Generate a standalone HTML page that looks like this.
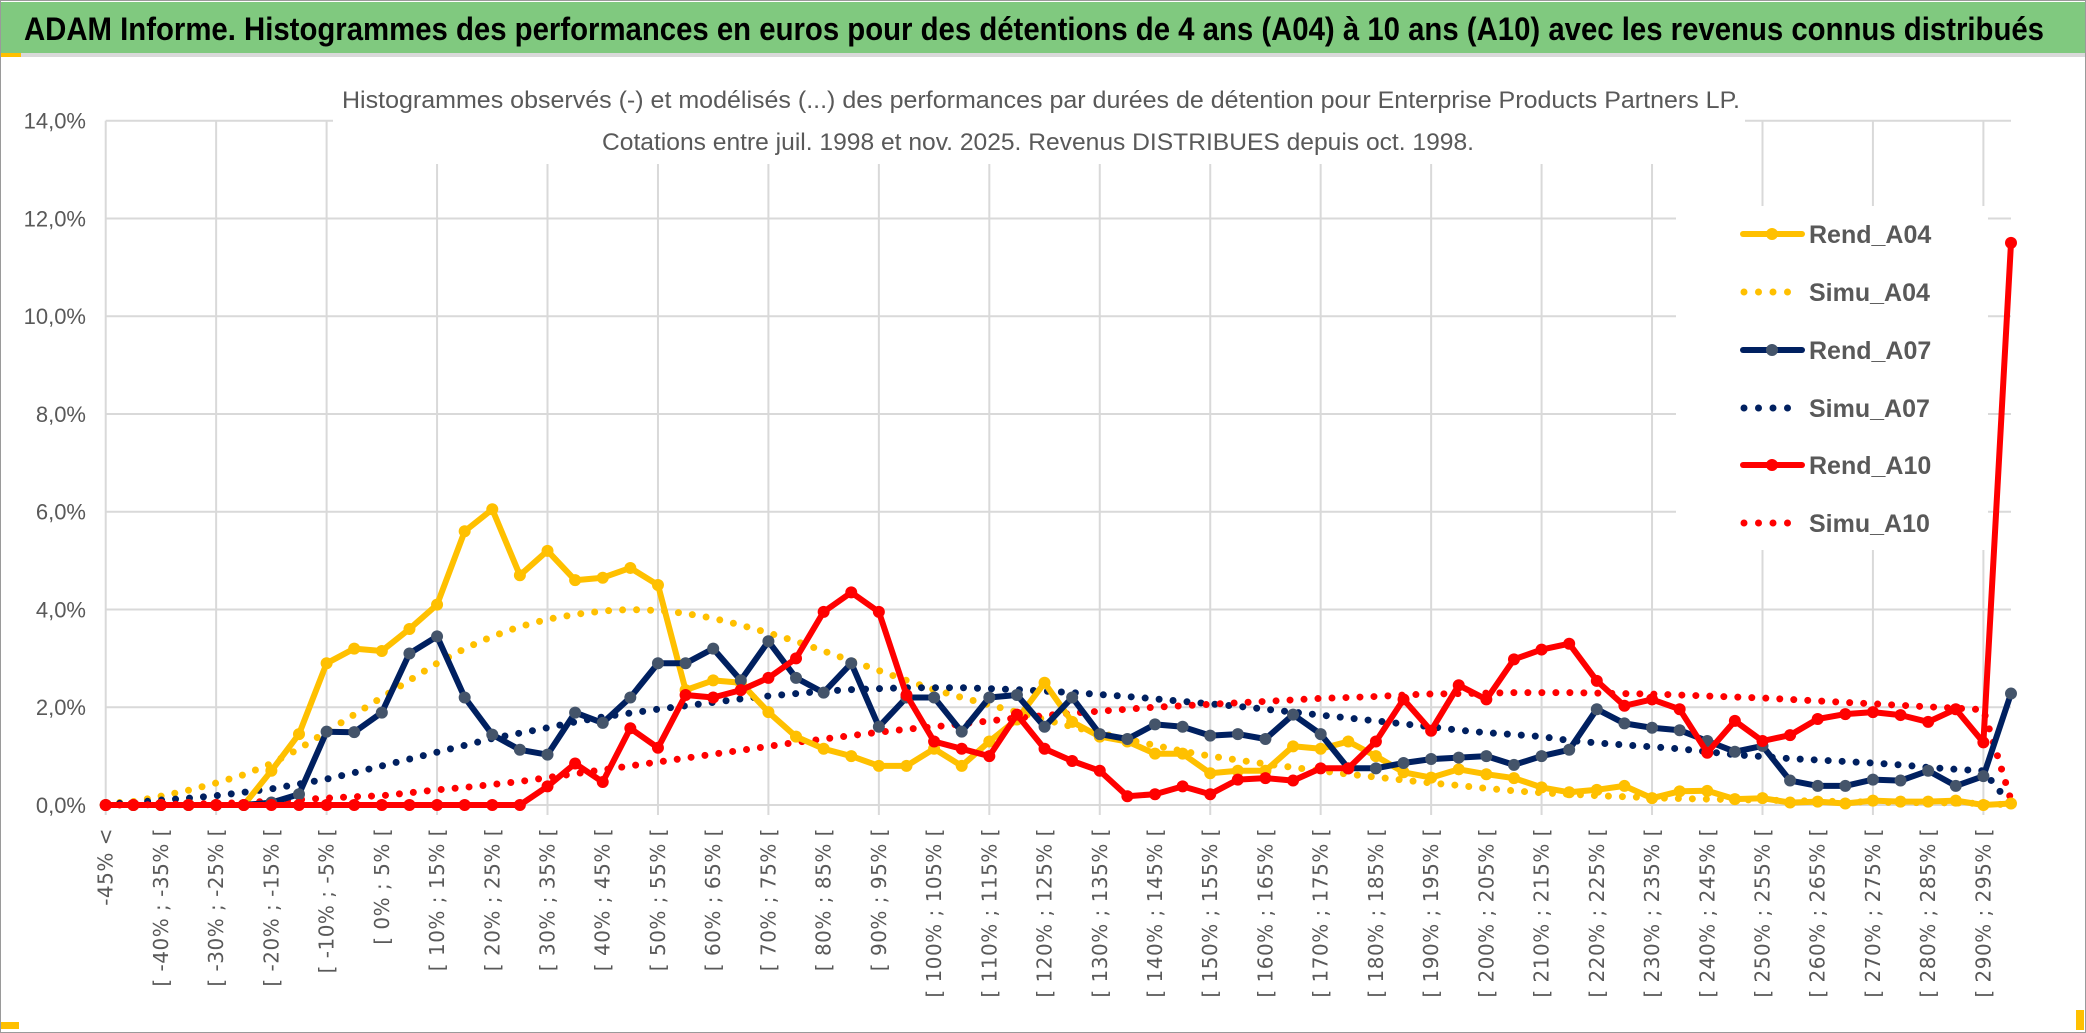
<!DOCTYPE html>
<html><head><meta charset="utf-8"><style>
html,body{margin:0;padding:0;background:#fff;}
svg{display:block;font-family:"Liberation Sans",sans-serif;}
</style></head><body>
<svg id="chart" width="2086" height="1033" viewBox="0 0 2086 1033" xmlns="http://www.w3.org/2000/svg">
<rect x="0.5" y="0.5" width="2085" height="1032" fill="#fff" stroke="#9a9a9a"/>
<rect x="1" y="2" width="2084" height="51" fill="#80c97f"/>
<rect x="1" y="53" width="2084" height="4" fill="#d9d9d9"/>
<rect x="1" y="53" width="20" height="4" fill="#ffc000"/>
<text x="24" y="40" font-size="32" font-weight="bold" fill="#000" textLength="2020" lengthAdjust="spacingAndGlyphs" font-family="'Liberation Sans Narrow','Liberation Sans',sans-serif">ADAM Informe. Histogrammes des performances en euros pour des détentions de 4 ans (A04) à 10 ans (A10) avec les revenus connus distribués</text>
<rect x="1" y="1022" width="18" height="7" fill="#ffc000"/>
<rect x="2076" y="1010" width="8" height="20" fill="#ffc000"/>
<g id="grid"></g>
<rect x="333" y="112" width="1412" height="52" fill="#fff"/>
<text x="1041" y="108" font-size="24" fill="#595959" text-anchor="middle" textLength="1398" lengthAdjust="spacingAndGlyphs">Histogrammes observés (-) et modélisés (...) des performances par durées de détention pour Enterprise Products Partners LP.</text>
<text x="1038" y="150" font-size="24" fill="#595959" text-anchor="middle" textLength="872" lengthAdjust="spacingAndGlyphs">Cotations entre juil. 1998 et nov. 2025. Revenus DISTRIBUES depuis oct. 1998.</text>
<rect x="1676" y="206" width="312" height="344" fill="#fff"/>
<g id="yaxis"></g>
<g id="xaxis"></g>
<g id="series"></g>
<g id="legend"></g>
</svg>
<script>
const yTicks = [0,2,4,6,8,10,12,14];
const yTickLabels = ["0,0%","2,0%","4,0%","6,0%","8,0%","10,0%","12,0%","14,0%"];
const binStarts = [-45,-45,-40,-35,-30,-25,-20,-15,-10,-5,0,5,10,15,20,25,30,35,40,45,50,55,60,65,70,75,80,85,90,95,100,105,110,115,120,125,130,135,140,145,150,155,160,165,170,175,180,185,190,195,200,205,210,215,220,225,230,235,240,245,250,255,260,265,270,275,280,285,290,295];
const rendA04 = [0,0,0,0,0,0,0.7,1.45,2.9,3.2,3.15,3.6,4.1,5.6,6.05,4.7,5.2,4.6,4.65,4.85,4.5,2.35,2.55,2.5,1.9,1.4,1.15,1.0,0.8,0.8,1.15,0.8,1.3,1.75,2.5,1.7,1.4,1.3,1.05,1.05,0.65,0.7,0.7,1.2,1.15,1.3,1.0,0.67,0.56,0.73,0.63,0.55,0.36,0.26,0.31,0.39,0.14,0.28,0.29,0.12,0.14,0.05,0.07,0.03,0.09,0.07,0.07,0.09,0.0,0.03];
const simuA04 = [0.03,0.07,0.18,0.3,0.45,0.62,0.85,1.15,1.5,1.85,2.2,2.55,2.9,3.2,3.45,3.65,3.8,3.9,3.97,4.0,3.98,3.92,3.82,3.68,3.52,3.35,3.15,2.95,2.75,2.55,2.36,2.2,2.05,1.9,1.75,1.6,1.47,1.34,1.22,1.1,1.0,0.92,0.84,0.77,0.7,0.63,0.57,0.51,0.45,0.4,0.34,0.29,0.25,0.22,0.19,0.17,0.15,0.13,0.12,0.11,0.1,0.09,0.08,0.07,0.06,0.05,0.05,0.04,0.03,0.0];
const rendA07 = [0,0,0,0,0,0,0.05,0.22,1.5,1.49,1.89,3.1,3.45,2.2,1.44,1.13,1.03,1.89,1.68,2.2,2.9,2.9,3.2,2.55,3.35,2.6,2.3,2.9,1.6,2.2,2.2,1.5,2.2,2.25,1.6,2.2,1.45,1.35,1.65,1.6,1.42,1.45,1.35,1.85,1.45,0.75,0.75,0.86,0.94,0.97,1.0,0.82,1.0,1.13,1.96,1.67,1.58,1.53,1.31,1.09,1.21,0.5,0.39,0.39,0.52,0.5,0.7,0.39,0.59,2.28];
const simuA07 = [0.02,0.05,0.1,0.14,0.19,0.26,0.33,0.43,0.53,0.66,0.8,0.94,1.08,1.22,1.36,1.47,1.58,1.7,1.8,1.88,1.96,2.03,2.1,2.17,2.23,2.28,2.33,2.36,2.38,2.4,2.4,2.4,2.38,2.36,2.33,2.3,2.26,2.22,2.17,2.12,2.07,2.02,1.96,1.9,1.84,1.78,1.72,1.66,1.6,1.53,1.48,1.44,1.4,1.32,1.27,1.23,1.19,1.15,1.09,1.03,0.99,0.95,0.92,0.89,0.86,0.82,0.77,0.73,0.7,0.0];
const rendA10 = [0,0,0,0,0,0,0,0,0,0,0,0,0,0,0,0,0.38,0.85,0.47,1.57,1.17,2.25,2.2,2.35,2.6,3.0,3.95,4.35,3.95,2.25,1.3,1.15,1.0,1.85,1.15,0.9,0.7,0.18,0.22,0.38,0.22,0.52,0.55,0.5,0.75,0.75,1.3,2.16,1.52,2.45,2.16,2.98,3.18,3.3,2.54,2.03,2.16,1.96,1.07,1.72,1.31,1.43,1.76,1.86,1.9,1.84,1.7,1.96,1.28,11.5];
const simuA10 = [0,0,0.01,0.02,0.03,0.05,0.08,0.11,0.14,0.17,0.19,0.25,0.31,0.36,0.42,0.48,0.56,0.64,0.72,0.8,0.88,0.96,1.04,1.12,1.2,1.28,1.35,1.42,1.49,1.55,1.6,1.66,1.72,1.78,1.83,1.88,1.92,1.96,2.0,2.03,2.06,2.09,2.12,2.15,2.18,2.2,2.22,2.25,2.27,2.28,2.29,2.3,2.3,2.3,2.29,2.28,2.27,2.25,2.23,2.21,2.19,2.16,2.13,2.1,2.07,2.04,2.01,1.98,1.95,0.1];
const seriesNames = ["Rend_A04","Simu_A04","Rend_A07","Simu_A07","Rend_A10","Simu_A10"];

const NS = "http://www.w3.org/2000/svg";
const X0 = 105.7, X1 = 2011, Y0 = 805, Y14 = 120.7;
const nCat = binStarts.length;
function xPos(i){ return X0 + (X1 - X0) * i / (nCat - 1); }
function yPos(v){ return Y0 - (Y0 - Y14) * v / 14; }
function mk(tag, attrs, parent){ const e = document.createElementNS(NS, tag); for (const k in attrs) e.setAttribute(k, attrs[k]); parent.appendChild(e); return e; }
function catLabel(i){ if (i === 0) return "-45% <"; const a = binStarts[i]; return "[ " + a + "% ; " + (a + 5) + "% ["; }

const grid = document.getElementById("grid");
yTicks.forEach(function(t){
  const l = mk("line", {x1: X0, x2: X1, y1: yPos(t), y2: yPos(t), stroke: "#d9d9d9", "stroke-width": 2}, grid);
  
  
});
for (let i = 0; i < nCat; i += 4) {
  const l = mk("line", {x1: xPos(i), x2: xPos(i), y1: yPos(14), y2: Y0 + 10, stroke: "#d9d9d9", "stroke-width": 2}, grid);
  
  
}

const yaxis = document.getElementById("yaxis");
yTicks.forEach(function(t, k){
  const tx = mk("text", {x: 86, y: yPos(t) + 8, "font-size": 22, fill: "#595959", "text-anchor": "end"}, yaxis);
  tx.textContent = yTickLabels[k];
  
  
});

const xaxis = document.getElementById("xaxis");
for (let i = 0; i < nCat; i += 2) {
  const x = xPos(i), y = 828;
  const tx = mk("text", {x: x, y: y, "font-size": 20, fill: "#595959", "text-anchor": "end", "dominant-baseline": "central", transform: "rotate(-90 " + x + " " + y + ")", "font-family": "'DejaVu Sans','Liberation Sans',sans-serif", "letter-spacing": "0.5"}, xaxis);
  tx.textContent = catLabel(i);
  
  
}

const seriesG = document.getElementById("series");
function pts(arr){ return arr.map(function(v, i){ return xPos(i).toFixed(1) + "," + yPos(v).toFixed(1); }).join(" "); }
function dotted(arr, color, name){
  const p = mk("polyline", {points: pts(arr), fill: "none", stroke: color, "stroke-width": 7, "stroke-linecap": "round", "stroke-dasharray": "0 14"}, seriesG);
  
  
}
function solid(arr, color, mcolor, name){
  const p = mk("polyline", {points: pts(arr), fill: "none", stroke: color, "stroke-width": 6, "stroke-linejoin": "round"}, seriesG);
  
  
  arr.forEach(function(v, i){
    const c = mk("circle", {cx: xPos(i), cy: yPos(v), r: 6, fill: mcolor}, seriesG);
    
    
  });
}
dotted(simuA04, "#ffc000", "simu-a04-line");
dotted(simuA07, "#002060", "simu-a07-line");
dotted(simuA10, "#ff0000", "simu-a10-line");
solid(rendA04, "#ffc000", "#ffc000", "rend-a04-line");
solid(rendA07, "#002060", "#44546a", "rend-a07-line");
solid(rendA10, "#ff0000", "#ff0000", "rend-a10-line");

const legend = document.getElementById("legend");
const legColors = ["#ffc000","#ffc000","#002060","#002060","#ff0000","#ff0000"];
const legMarker = ["#ffc000",null,"#44546a",null,"#ff0000",null];
const legY = [234,292,350,408,465,523];
seriesNames.forEach(function(n, k){
  const g = mk("g", {}, legend);
  
  
  const y = legY[k];
  if (legMarker[k]) {
    mk("line", {x1: 1743, x2: 1802, y1: y, y2: y, stroke: legColors[k], "stroke-width": 6, "stroke-linecap": "round"}, g);
    mk("circle", {cx: 1772, cy: y, r: 6, fill: legMarker[k]}, g);
  } else {
    mk("line", {x1: 1744, x2: 1800, y1: y, y2: y, stroke: legColors[k], "stroke-width": 7, "stroke-linecap": "round", "stroke-dasharray": "0 14.5"}, g);
  }
  const t = mk("text", {x: 1809, y: y + 9, "font-size": 25, fill: "#595959", "font-weight": "bold"}, g);
  t.textContent = n;
});
</script>
</body></html>
